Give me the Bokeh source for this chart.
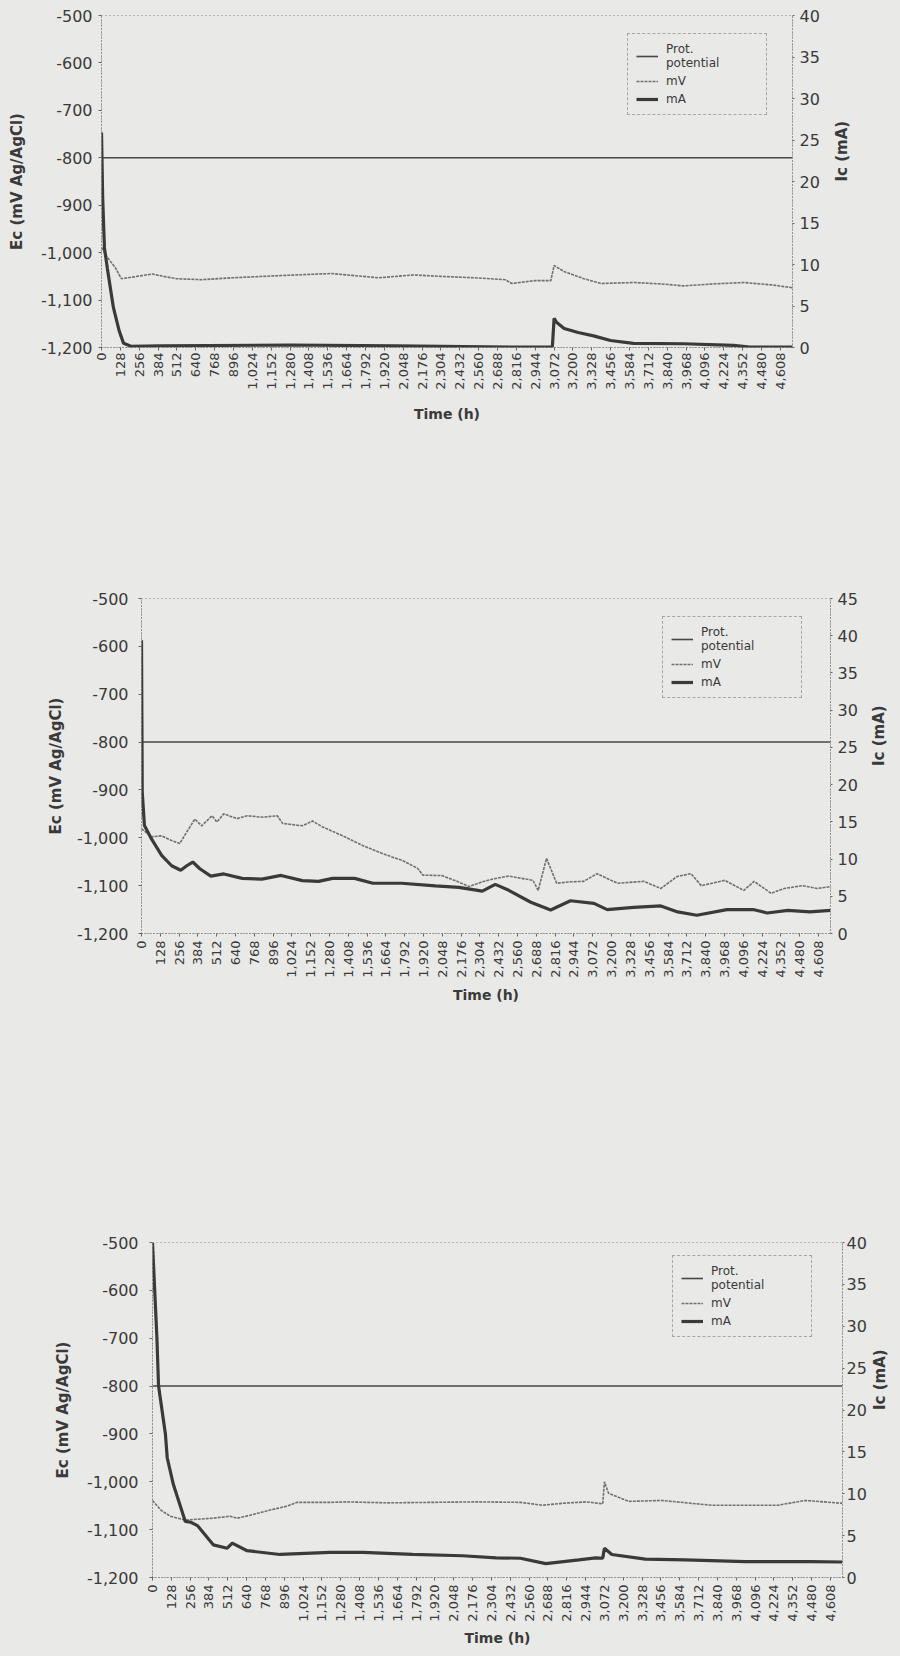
import math
from bokeh.plotting import figure
from bokeh.models import (Range1d, LinearAxis, FixedTicker, NumeralTickFormatter,
                          Legend, LegendItem)
from bokeh.layouts import column
from bokeh.embed import file_html
from bokeh.resources import INLINE

# ---------------- data ----------------
time_ticks = [0, 128, 256, 384, 512, 640, 768, 896, 1024, 1152, 1280, 1408, 1536,
              1664, 1792, 1920, 2048, 2176, 2304, 2432, 2560, 2688, 2816, 2944,
              3072, 3200, 3328, 3456, 3584, 3712, 3840, 3968, 4096, 4224, 4352,
              4480, 4608]
mv_ticks = [-500, -600, -700, -800, -900, -1000, -1100, -1200]
ma_ticks_40 = [0, 5, 10, 15, 20, 25, 30, 35, 40]
ma_ticks_45 = [0, 5, 10, 15, 20, 25, 30, 35, 40, 45]

prot_t = [0, 4690]
prot_mv = [-800, -800]

# chart 1
c1_mv_t = [0, 40, 95, 135, 200, 345, 420, 510, 680, 890, 1100, 1320, 1560, 1700,
           1880, 2120, 2300, 2530, 2740, 2785, 2940, 3050, 3072, 3140, 3275, 3390,
           3615, 3800, 3950, 4150, 4360, 4550, 4690]
c1_mv = [-989, -1010, -1032, -1055, -1052, -1045, -1050, -1055, -1057, -1053, -1050,
         -1047, -1044, -1048, -1053, -1047, -1050, -1053, -1057, -1065, -1059, -1059,
         -1027, -1040, -1055, -1065, -1063, -1066, -1070, -1066, -1063, -1068, -1074]
c1_ma_t = [0, 8, 20, 40, 81, 120, 150, 200, 400, 1280, 2000, 2800, 3060, 3072, 3090,
           3140, 3235, 3340, 3455, 3610, 3950, 4290, 4400, 4690]
c1_ma = [25.9, 18.0, 12.0, 9.5, 4.8, 2.0, 0.5, 0.15, 0.2, 0.3, 0.2, 0.05, 0.05, 3.5,
         3.0, 2.3, 1.8, 1.4, 0.84, 0.5, 0.45, 0.25, 0.05, 0.05]

# chart 2
c2_mv_t = [0, 68, 137, 200, 260, 308, 363, 410, 480, 513, 560, 650, 720, 820, 925,
           960, 1095, 1165, 1230, 1370, 1505, 1640, 1780, 1880, 1915, 2045, 2140,
           2230, 2320, 2410, 2500, 2665, 2700, 2757, 2826, 2920, 3010, 3100, 3240,
           3420, 3535, 3645, 3740, 3810, 3970, 4100, 4170, 4285, 4375, 4500, 4600, 4690]
c2_mv = [-981, -998, -996, -1005, -1012, -988, -961, -975, -954, -967, -950, -960,
         -954, -957, -954, -970, -975, -965, -977, -996, -1016, -1033, -1048, -1064,
         -1078, -1079, -1090, -1102, -1092, -1085, -1080, -1089, -1110, -1043, -1095,
         -1092, -1091, -1075, -1095, -1091, -1106, -1081, -1075, -1100, -1089, -1110,
         -1091, -1116, -1106, -1100, -1106, -1102]
c2_ma_t = [0, 5, 20, 68, 137, 205, 267, 308, 349, 397, 472, 561, 685, 820, 950, 1095,
           1205, 1300, 1450, 1575, 1770, 2000, 2160, 2320, 2408, 2500, 2650, 2785,
           2920, 3080, 3170, 3350, 3535, 3650, 3780, 3985, 4170, 4260, 4400, 4550, 4690]
c2_ma = [39.4, 19.0, 14.5, 12.7, 10.5, 9.1, 8.5, 9.1, 9.6, 8.7, 7.7, 8.0, 7.4, 7.3,
         7.8, 7.1, 7.0, 7.4, 7.4, 6.75, 6.75, 6.4, 6.2, 5.7, 6.6, 5.8, 4.2, 3.15, 4.4,
         4.05, 3.2, 3.5, 3.7, 2.9, 2.45, 3.2, 3.2, 2.75, 3.1, 2.9, 3.1]

# chart 3
c3_mv_t = [0, 60, 122, 223, 413, 528, 575, 663, 799, 914, 982, 1206, 1320, 1600,
           1900, 2200, 2500, 2650, 2785, 2950, 3060, 3072, 3100, 3237, 3460, 3800,
           4250, 4435, 4690]
c3_mv = [-1039, -1060, -1072, -1080, -1076, -1072, -1076, -1070, -1059, -1051, -1043,
         -1043, -1042, -1044, -1043, -1042, -1043, -1049, -1045, -1042, -1046, -1000,
         -1024, -1041, -1039, -1049, -1049, -1039, -1045]
c3_ma_t = [0, 15, 30, 41, 88, 100, 142, 223, 260, 305, 413, 508, 542, 643, 867, 1206,
           1430, 1768, 2106, 2336, 2500, 2673, 2898, 3013, 3060, 3072, 3122, 3350,
           3620, 4028, 4475, 4690]
c3_ma = [40.0, 34.3, 28.6, 22.9, 17.1, 14.3, 11.1, 6.7, 6.6, 6.2, 3.9, 3.5, 4.1, 3.2,
         2.75, 3.0, 3.0, 2.75, 2.6, 2.35, 2.3, 1.65, 2.1, 2.35, 2.3, 3.5, 2.75, 2.2,
         2.1, 1.9, 1.9, 1.85]

# ---------------- style ----------------
BG = "#e9e9e7"
INK = "#3a3a3a"
FONT = "DejaVu Sans"


def make_chart(height, mb, mv_t, mv, ma_t, ma, ma_max, ma_ticks, st):
    p = figure(width=900, height=height, x_range=Range1d(0, 4690),
               y_range=Range1d(-1200, -500), output_backend="svg",
               toolbar_location=None, frame_align=False,
               min_border_top=mb[0], min_border_right=mb[1],
               min_border_bottom=mb[2], min_border_left=mb[3])
    p.background_fill_color = BG
    p.border_fill_color = BG
    p.outline_line_color = "#888888"
    p.outline_line_dash = "1 3"
    p.xgrid.visible = False
    p.ygrid.visible = False
    p.extra_y_ranges = {"ma": Range1d(0, ma_max)}

    r_prot = p.line(prot_t, prot_mv, line_color="#474747", line_width=1.6)
    r_mv = p.line(mv_t, mv, line_color="#707070", line_width=1.6, line_dash="3 1")
    r_ma = p.line(ma_t, ma, y_range_name="ma", line_color="#3a3a3a", line_width=3.2)

    xa = p.xaxis[0]
    xa.ticker = FixedTicker(ticks=time_ticks)
    xa.formatter = NumeralTickFormatter(format="0,0")
    xa.major_label_orientation = math.pi / 2
    xa.major_label_text_font = FONT
    xa.major_label_text_font_size = "13px"
    xa.major_label_text_color = INK
    xa.major_tick_out = 3
    xa.major_tick_in = 0
    xa.minor_tick_out = 0
    xa.minor_tick_in = 0
    xa.major_label_standoff = st["xl"]
    xa.axis_label = "Time (h)"
    xa.axis_label_text_font = FONT
    xa.axis_label_text_font_style = "bold"
    xa.axis_label_text_font_size = "14px"
    xa.axis_label_text_color = INK
    xa.axis_label_standoff = st["xt"]
    xa.axis_line_dash = "1 2"
    xa.axis_line_color = "#666666"
    xa.major_tick_line_color = "#666666"

    ya = p.yaxis[0]
    ya.ticker = FixedTicker(ticks=mv_ticks)
    ya.formatter = NumeralTickFormatter(format="0,0")
    ya.major_label_text_font = FONT
    ya.major_label_text_font_size = "16px"
    ya.major_label_text_color = INK
    ya.major_tick_out = 3
    ya.major_tick_in = 0
    ya.minor_tick_out = 0
    ya.minor_tick_in = 0
    ya.major_label_standoff = st["yl"]
    ya.axis_label = "Ec (mV Ag/AgCl)"
    ya.axis_label_text_font = FONT
    ya.axis_label_text_font_style = "bold"
    ya.axis_label_text_font_size = "15px"
    ya.axis_label_text_color = INK
    ya.axis_label_standoff = st["yt"]
    ya.axis_line_dash = "1 2"
    ya.axis_line_color = "#666666"
    ya.major_tick_line_color = "#666666"

    ra = LinearAxis(y_range_name="ma", ticker=FixedTicker(ticks=ma_ticks))
    ra.major_label_text_font = FONT
    ra.major_label_text_font_size = "16px"
    ra.major_label_text_color = INK
    ra.major_tick_out = 2
    ra.major_tick_in = 0
    ra.minor_tick_out = 0
    ra.minor_tick_in = 0
    ra.major_label_standoff = st["rl"]
    ra.axis_line_dash = "1 2"
    ra.axis_line_color = "#666666"
    ra.major_tick_line_color = "#666666"
    p.add_layout(ra, "right")

    # right-axis title (reads bottom to top, as in the original)
    mid = ma_max / 2
    rt = LinearAxis(y_range_name="ma", ticker=FixedTicker(ticks=[mid]),
                    major_label_overrides={mid: "Ic (mA)"})
    rt.major_label_orientation = math.pi / 2
    rt.major_label_text_font = FONT
    rt.major_label_text_font_style = "bold"
    rt.major_label_text_font_size = "15px"
    rt.major_label_text_color = INK
    rt.major_label_standoff = st["rt"]
    rt.major_tick_out = 0
    rt.major_tick_in = 0
    rt.minor_tick_out = 0
    rt.minor_tick_in = 0
    rt.axis_line_color = None
    rt.major_tick_line_color = None
    rt.minor_tick_line_color = None
    p.add_layout(rt, "right")

    leg = Legend(items=[LegendItem(label="Prot.\npotential", renderers=[r_prot]),
                        LegendItem(label="mV", renderers=[r_mv]),
                        LegendItem(label="mA", renderers=[r_ma])],
                 location=st["loc"])
    leg.margin = 0
    leg.padding = 8
    leg.spacing = 4
    leg.glyph_width = 22
    leg.glyph_height = 14
    leg.label_height = 14
    leg.label_width = 92
    leg.label_standoff = 8
    leg.label_text_font = FONT
    leg.label_text_font_size = "12px"
    leg.label_text_color = INK
    leg.border_line_color = "#666666"
    leg.border_line_dash = "2 2"
    leg.background_fill_alpha = 0
    p.add_layout(leg)
    return p


p1 = make_chart(425, (15, 108, 78, 101), c1_mv_t, c1_mv, c1_ma_t, c1_ma, 40, ma_ticks_40,
                dict(xl=2, xt=13, yl=6, yt=12, rl=5, rt=19, loc=(526, 232)))
p2 = make_chart(580, (173, 70, 70, 141), c2_mv_t, c2_mv, c2_ma_t, c2_ma, 45, ma_ticks_45,
                dict(xl=4, xt=6, yl=10, yt=9, rl=5, rt=18, loc=(521, 235)))
p3 = make_chart(643, (237, 58, 68, 152), c3_mv_t, c3_mv, c3_ma_t, c3_ma, 40, ma_ticks_40,
                dict(xl=4, xt=5, yl=11, yt=12, rl=2, rt=10, loc=(520, 240)))

layout = column(p1, p2, p3, spacing=0)
html = file_html(layout, INLINE)
html = html.replace("</head>", "<style>body{background:#e9e9e7;}</style></head>", 1)
open("out.html", "w").write(html)
